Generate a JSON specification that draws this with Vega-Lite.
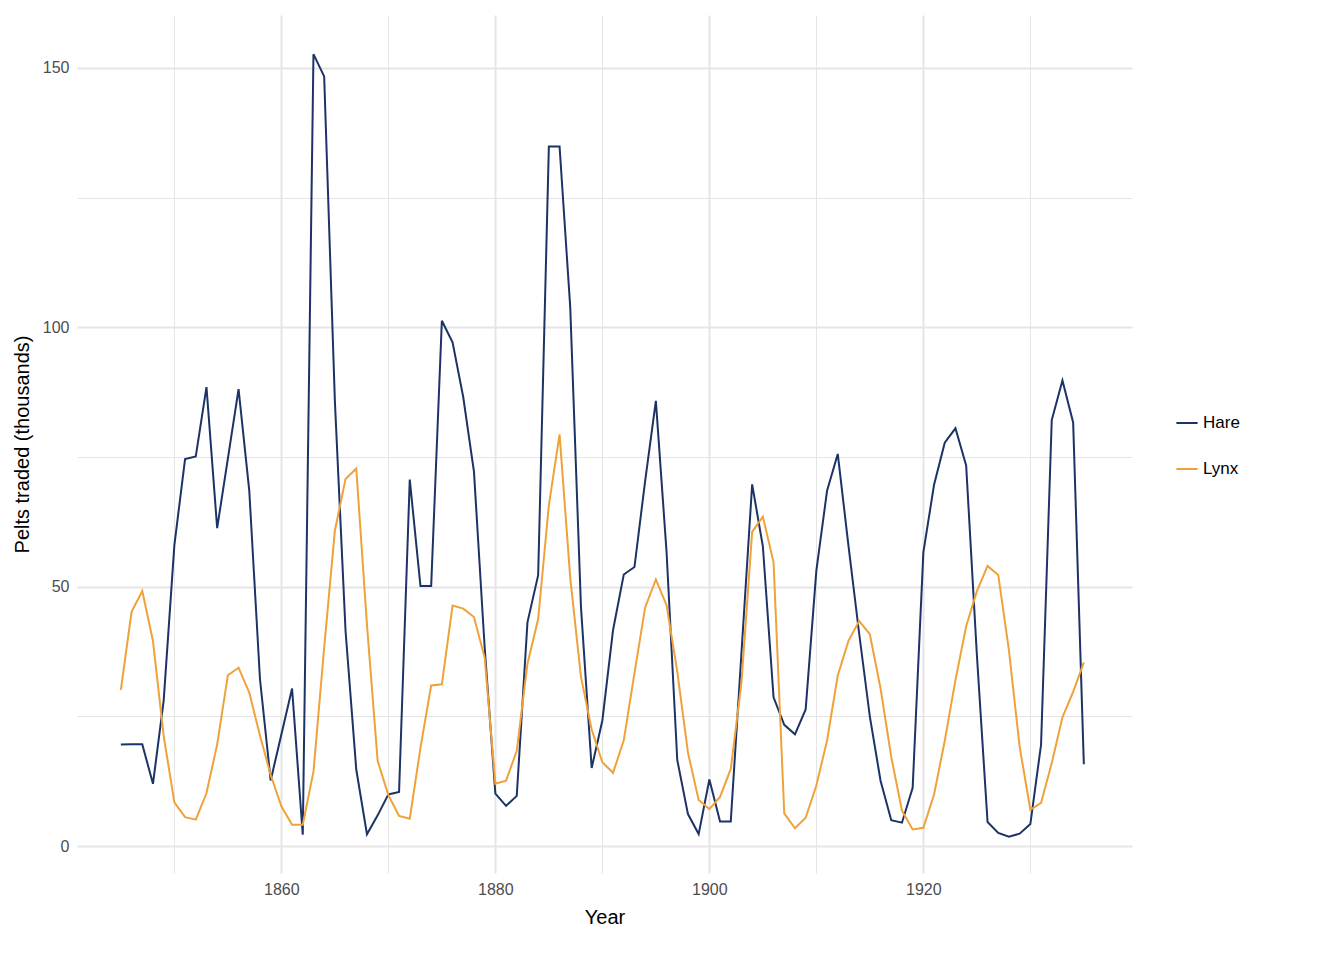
{
  "$schema": "https://vega.github.io/schema/vega-lite/v6.json",
  "width": 1055,
  "height": 858,
  "padding": {"left": 12, "top": 15, "right": 0, "bottom": 0},
  "config": {
    "view": {"stroke": null},
    "font": "Liberation Sans",
    "axis": {"domain": false, "ticks": false, "gridColor": "#E5E5E5", "labelColor": "#4D4D4D", "labelFontSize": 16, "titleFontSize": 20, "titleFontWeight": "normal", "titleColor": "black", "labelPadding": 8, "titlePadding": 10}
  },
  "data": {
    "values": [
      {"Year":1845,"Hare":19.58,"Lynx":30.09},{"Year":1846,"Hare":19.6,"Lynx":45.15},{"Year":1847,"Hare":19.61,"Lynx":49.15},
      {"Year":1848,"Hare":11.99,"Lynx":39.52},{"Year":1849,"Hare":28.04,"Lynx":21.23},{"Year":1850,"Hare":58.0,"Lynx":8.42},
      {"Year":1851,"Hare":74.6,"Lynx":5.56},{"Year":1852,"Hare":75.09,"Lynx":5.08},{"Year":1853,"Hare":88.48,"Lynx":10.17},
      {"Year":1854,"Hare":61.28,"Lynx":19.6},{"Year":1855,"Hare":74.67,"Lynx":32.91},{"Year":1856,"Hare":88.06,"Lynx":34.38},
      {"Year":1857,"Hare":68.51,"Lynx":29.59},{"Year":1858,"Hare":32.19,"Lynx":21.3},{"Year":1859,"Hare":12.64,"Lynx":13.69},
      {"Year":1860,"Hare":21.49,"Lynx":7.65},{"Year":1861,"Hare":30.35,"Lynx":4.08},{"Year":1862,"Hare":2.18,"Lynx":4.09},
      {"Year":1863,"Hare":152.65,"Lynx":14.33},{"Year":1864,"Hare":148.36,"Lynx":38.22},{"Year":1865,"Hare":85.81,"Lynx":60.78},
      {"Year":1866,"Hare":41.41,"Lynx":70.77},{"Year":1867,"Hare":14.75,"Lynx":72.77},{"Year":1868,"Hare":2.28,"Lynx":42.68},
      {"Year":1869,"Hare":5.91,"Lynx":16.39},{"Year":1870,"Hare":9.95,"Lynx":9.83},{"Year":1871,"Hare":10.44,"Lynx":5.8},
      {"Year":1872,"Hare":70.64,"Lynx":5.26},{"Year":1873,"Hare":50.12,"Lynx":18.91},{"Year":1874,"Hare":50.13,"Lynx":30.95},
      {"Year":1875,"Hare":101.25,"Lynx":31.18},{"Year":1876,"Hare":97.12,"Lynx":46.34},{"Year":1877,"Hare":86.51,"Lynx":45.77},
      {"Year":1878,"Hare":72.17,"Lynx":44.15},{"Year":1879,"Hare":38.32,"Lynx":36.33},{"Year":1880,"Hare":10.11,"Lynx":12.03},
      {"Year":1881,"Hare":7.74,"Lynx":12.6},{"Year":1882,"Hare":9.67,"Lynx":18.34},{"Year":1883,"Hare":43.12,"Lynx":35.14},
      {"Year":1884,"Hare":52.21,"Lynx":43.77},{"Year":1885,"Hare":134.85,"Lynx":65.69},{"Year":1886,"Hare":134.86,"Lynx":79.35},
      {"Year":1887,"Hare":103.79,"Lynx":51.65},{"Year":1888,"Hare":46.1,"Lynx":32.59},{"Year":1889,"Hare":15.03,"Lynx":22.45},
      {"Year":1890,"Hare":24.2,"Lynx":16.16},{"Year":1891,"Hare":41.65,"Lynx":14.12},{"Year":1892,"Hare":52.34,"Lynx":20.38},
      {"Year":1893,"Hare":53.78,"Lynx":33.33},{"Year":1894,"Hare":70.4,"Lynx":46.0},{"Year":1895,"Hare":85.81,"Lynx":51.41},
      {"Year":1896,"Hare":56.69,"Lynx":46.43},{"Year":1897,"Hare":16.59,"Lynx":33.68},{"Year":1898,"Hare":6.16,"Lynx":18.01},
      {"Year":1899,"Hare":2.3,"Lynx":8.86},{"Year":1900,"Hare":12.82,"Lynx":7.13},{"Year":1901,"Hare":4.72,"Lynx":9.47},
      {"Year":1902,"Hare":4.73,"Lynx":14.86},{"Year":1903,"Hare":37.22,"Lynx":31.47},{"Year":1904,"Hare":69.72,"Lynx":60.57},
      {"Year":1905,"Hare":57.78,"Lynx":63.51},{"Year":1906,"Hare":28.68,"Lynx":54.7},{"Year":1907,"Hare":23.37,"Lynx":6.3},
      {"Year":1908,"Hare":21.54,"Lynx":3.41},{"Year":1909,"Hare":26.34,"Lynx":5.44},{"Year":1910,"Hare":53.1,"Lynx":11.65},
      {"Year":1911,"Hare":68.48,"Lynx":20.35},{"Year":1912,"Hare":75.58,"Lynx":32.88},{"Year":1913,"Hare":57.92,"Lynx":39.55},
      {"Year":1914,"Hare":40.97,"Lynx":43.36},{"Year":1915,"Hare":24.95,"Lynx":40.83},{"Year":1916,"Hare":12.59,"Lynx":30.36},
      {"Year":1917,"Hare":4.97,"Lynx":17.18},{"Year":1918,"Hare":4.5,"Lynx":6.82},{"Year":1919,"Hare":11.21,"Lynx":3.19},
      {"Year":1920,"Hare":56.6,"Lynx":3.52},{"Year":1921,"Hare":69.63,"Lynx":9.94},{"Year":1922,"Hare":77.74,"Lynx":20.3},
      {"Year":1923,"Hare":80.53,"Lynx":31.99},{"Year":1924,"Hare":73.38,"Lynx":42.36},{"Year":1925,"Hare":36.93,"Lynx":49.08},
      {"Year":1926,"Hare":4.64,"Lynx":53.99},{"Year":1927,"Hare":2.54,"Lynx":52.25},{"Year":1928,"Hare":1.8,"Lynx":37.7},
      {"Year":1929,"Hare":2.39,"Lynx":19.14},{"Year":1930,"Hare":4.23,"Lynx":6.98},{"Year":1931,"Hare":19.52,"Lynx":8.31},
      {"Year":1932,"Hare":82.11,"Lynx":16.01},{"Year":1933,"Hare":89.76,"Lynx":24.82},{"Year":1934,"Hare":81.66,"Lynx":29.7},
      {"Year":1935,"Hare":15.76,"Lynx":35.4}
    ]
  },
  "transform": [{"fold": ["Hare", "Lynx"], "as": ["Species", "Pelts"]}],
  "mark": {"type": "line", "strokeWidth": 2},
  "encoding": {
    "x": {
      "field": "Year", "type": "quantitative", "title": "Year",
      "scale": {"domain": [1840.9, 1939.5], "nice": false, "zero": false},
      "axis": {
        "values": [1850, 1860, 1870, 1880, 1890, 1900, 1910, 1920, 1930],
        "labelExpr": "datum.value % 20 == 0 ? datum.label : ''",
        "format": "d",
        "gridWidth": {"condition": {"test": "datum.value % 20 == 0", "value": 2}, "value": 1}
      }
    },
    "y": {
      "field": "Pelts", "type": "quantitative", "title": "Pelts traded (thousands)",
      "scale": {"domain": [-5.2, 160.2], "nice": false, "zero": false},
      "axis": {
        "values": [0, 25, 50, 75, 100, 125, 150],
        "labelExpr": "datum.value % 50 == 0 ? datum.label : ''",
        "gridWidth": {"condition": {"test": "datum.value % 50 == 0", "value": 2}, "value": 1}
      }
    },
    "color": {
      "field": "Species", "type": "nominal",
      "scale": {"domain": ["Hare", "Lynx"], "range": ["#1B3366", "#EFA23A"]},
      "legend": {"title": null, "labelFontSize": 17, "symbolType": "stroke", "symbolStrokeWidth": 2, "symbolSize": 450, "rowPadding": 26, "orient": "none", "legendX": 1098, "legendY": 396}
    }
  }
}
